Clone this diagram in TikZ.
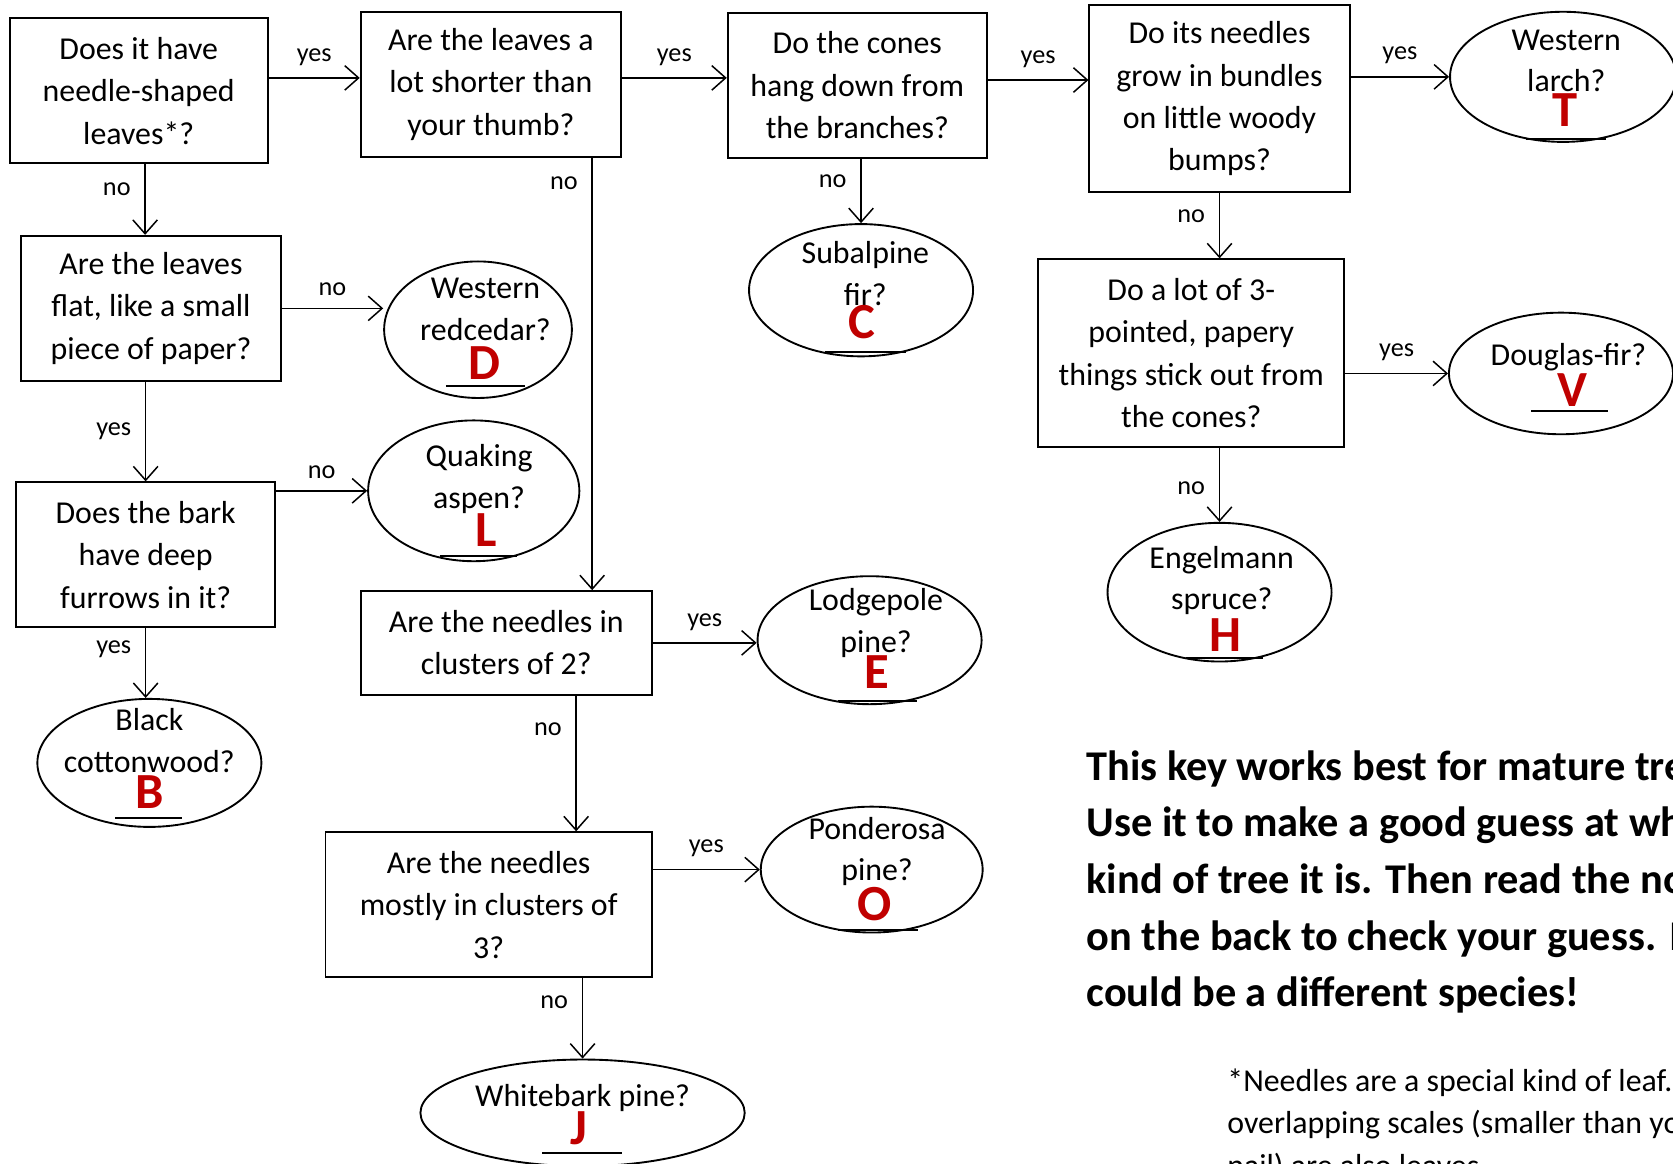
\documentclass[tikz,border=0pt]{standalone}
\usepackage{fontspec}
\setmainfont{Carlito}
\usepackage{xcolor}
\usepackage{tikz}
\usetikzlibrary{arrows.meta}
\usetikzlibrary{shapes.geometric}
\usetikzlibrary{calc}
\definecolor{keyred}{RGB}{192,0,0}

\begin{document}
\begin{tikzpicture}[x=0.02cm,y=-0.02cm,
	question/.style 2 args={draw,line width=1pt,align=center,inner sep=0pt,minimum width=#1,minimum height=#2,font=\fontsize{17}{22.6}\selectfont},
	answer/.style 2 args={draw,ellipse,line width=1pt,inner sep=0pt,minimum width=#1,minimum height=#2},
	tree/.style={align=center,inner sep=0pt,font=\fontsize{17}{22.3}\selectfont},
	letter/.style={inner sep=0pt,text=keyred,font=\fontsize{27}{27}\selectfont\bfseries},
	blank/.style={line width=1pt},
	arr/.style={line width=0.8pt,-{Straight Barb[length=0.26cm,width=0.46cm]}},
	lab/.style={font=\fontsize{14}{14}\selectfont}]
	\useasboundingbox (0,0) rectangle (1568,1090);
	\clip (0,0) rectangle (1568,1090);
	% questions
	\node[question={4.84cm}{2.72cm}] (needle) at (130,85) {Does it have\\needle-shaped\\leaves*?};
	\node[question={4.88cm}{2.72cm}] (short) at (460,79) {Are the leaves a\\lot shorter than\\your thumb?};
	\node[question={4.86cm}{2.72cm}] (cones) at (803.5,80) {Do the cones\\hang down from\\the branches?};
	\node[question={4.88cm}{3.5cm}] (bundles) at (1143,92.5) {Do its needles\\grow in bundles\\on little woody\\bumps?};
	\node[question={4.86cm}{2.72cm}] (flat) at (141.5,289) {Are the leaves\\flat, like a small\\piece of paper?};
	\node[question={4.86cm}{2.72cm}] (bark) at (136.5,520) {Does the bark\\have deep\\furrows in it?};
	\node[question={5.46cm}{1.94cm}] (two) at (474.5,602.5) {Are the needles in\\clusters of 2?};
	\node[question={6.12cm}{2.72cm}] (three) at (458,848) {Are the needles\\mostly in clusters of\\3?};
	\node[question={5.74cm}{3.52cm}] (papery) at (1116.5,331) {Do a lot of 3-\\pointed, papery\\things stick out from\\the cones?};
	% answers
	\node[answer={4.24cm}{2.44cm}] (larch) at (1465,72) {};
	\node[answer={3.52cm}{2.56cm}] (redcedar) at (448,309) {};
	\node[answer={4.2cm}{2.48cm}] (subalpine) at (807,272) {};
	\node[answer={3.96cm}{2.64cm}] (aspen) at (444,460) {};
	\node[answer={4.2cm}{2.28cm}] (douglas) at (1463,350) {};
	\node[answer={4.2cm}{2.6cm}] (engelmann) at (1143,555) {};
	\node[answer={4.2cm}{2.4cm}] (lodgepole) at (815,600) {};
	\node[answer={4.2cm}{2.4cm}] (cottonwood) at (140,715) {};
	\node[answer={4.16cm}{2.36cm}] (ponderosa) at (817,815) {};
	\node[answer={6.08cm}{2cm}] (whitebark) at (546,1043) {};
	\node[tree] (tlarch) at (1468,57) {Western\\larch?};
	\node[tree] (tredcedar) at (455,290) {Western\\redcedar?};
	\node[tree] (tsubalpine) at (811,256) {Subalpine\\fir?};
	\node[tree] (taspen) at (449,449) {Quaking\\aspen?};
	\node[tree] (tdouglas) at (1470,335) {Douglas-fir?};
	\node[tree] (tengelmann) at (1145,544) {Engelmann\\spruce?};
	\node[tree] (tlodgepole) at (821,584) {Lodgepole\\pine?};
	\node[tree] (tcottonwood) at (140,694) {Black\\cottonwood?};
	\node[tree] (tponderosa) at (822,798) {Ponderosa\\pine?};
	\node[tree] (twhitebark) at (546,1029) {Whitebark pine?};
	\node[letter] (llarch) at (1467,103) {T};
	\node[letter] (lredcedar) at (454,340) {D};
	\node[letter] (lsubalpine) at (808,302) {C};
	\node[letter] (laspen) at (456,497) {L};
	\node[letter] (ldouglas) at (1474,366) {V};
	\node[letter] (lengelmann) at (1149,595) {H};
	\node[letter] (llodgepole) at (822,630) {E};
	\node[letter] (lcottonwood) at (140,742) {B};
	\node[letter] (lponderosa) at (820,847) {O};
	\node[letter] (lwhitebark) at (543,1057) {J};
	\draw[blank] (1430,130) -- (1505,130);
	\draw[blank] (418,362) -- (492,362);
	\draw[blank] (773,330) -- (849,330);
	\draw[blank] (412,521) -- (485,521);
	\draw[blank] (1435,385) -- (1507,385);
	\draw[blank] (1112,617) -- (1184,617);
	\draw[blank] (785,657) -- (859,657);
	\draw[blank] (108,767) -- (171,767);
	\draw[blank] (785,872) -- (860,872);
	\draw[blank] (508,1081) -- (583,1081);
	% connectors
	\draw[arr] ([yshift=0.12cm]short.west -| needle.east) -- node[lab,above=3pt] (y1) {yes} ([yshift=0.12cm]short.west);
	\draw[arr] ([yshift=0.12cm]short.east) -- node[lab,above=3pt] (y2) {yes} ([yshift=0.12cm]short.east -| cones.west);
	\draw[arr] ([yshift=0.1cm]cones.east) -- node[lab,above=3pt] (y3) {yes} ([yshift=0.1cm]cones.east -| bundles.west);
	\draw[arr] (bundles.east |- larch.west) -- node[lab,above=3pt] (y4) {yes} (larch.west);
	\draw[arr] ([xshift=0.12cm]needle.south) -- node[lab,pos=0.35,left=4pt] (n1) {no} ([xshift=0.12cm]needle.south |- flat.north);
	\draw[arr] (flat.east) -- node[lab,above=3pt] (n2) {no} (flat.east -| redcedar.west);
	\draw[arr] (bark.north |- flat.south) -- node[lab,left=4pt] (y5) {yes} (bark.north);
	\draw[arr] (bark.east |- aspen.west) -- node[lab,above=3pt] (n3) {no} (aspen.west);
	\draw[arr] (bark.south) -- node[lab,pos=0.3,left=4pt] (y6) {yes} (bark.south |- cottonwood.north);
	\draw[arr] ([xshift=1.9cm]short.south) -- node[lab,pos=0.06,left=4pt] (n4) {no} ([xshift=1.9cm]short.south |- two.north);
	\draw[arr] (two.east) -- node[lab,above=3pt] (y7) {yes} (two.east -| lodgepole.west);
	\draw[arr] ([xshift=1.31cm]two.south) -- node[lab,pos=0.25,left=4pt] (n5) {no} ([xshift=1.31cm]two.south |- three.north);
	\draw[arr] (three.east |- ponderosa.west) -- node[lab,above=3pt] (y8) {yes} (ponderosa.west);
	\draw[arr] (whitebark.north |- three.south) -- node[lab,pos=0.3,left=4pt] (n6) {no} (whitebark.north);
	\draw[arr] (subalpine.north |- cones.south) -- node[lab,pos=0.35,left=4pt] (n7) {no} (subalpine.north);
	\draw[arr] (bundles.south) -- node[lab,pos=0.35,left=4pt] (n8) {no} (bundles.south |- papery.north);
	\draw[arr] (papery.east |- douglas.west) -- node[lab,above=3pt] (y9) {yes} (douglas.west);
	\draw[arr] (engelmann.north |- papery.south) -- node[lab,pos=0.55,left=4pt] (n9) {no} (engelmann.north);
	% notes
	\node[anchor=north west,align=left,inner sep=0pt,font=\fontsize{22.6}{30.2}\selectfont\bfseries] (note) at (1018,703) {This key works best for mature trees.\\Use it to make a good guess at what\\kind of tree it is. Then read the notes\\on the back to check your guess. It\\could be a different species!};
	\node[anchor=north west,align=left,inner sep=0pt,font=\fontsize{17}{22.8}\selectfont] (star) at (1150,1001) {*Needles are a special kind of leaf. Tiny,\\overlapping scales (smaller than your finger-\\nail) are also leaves.};
\end{tikzpicture}
\end{document}
